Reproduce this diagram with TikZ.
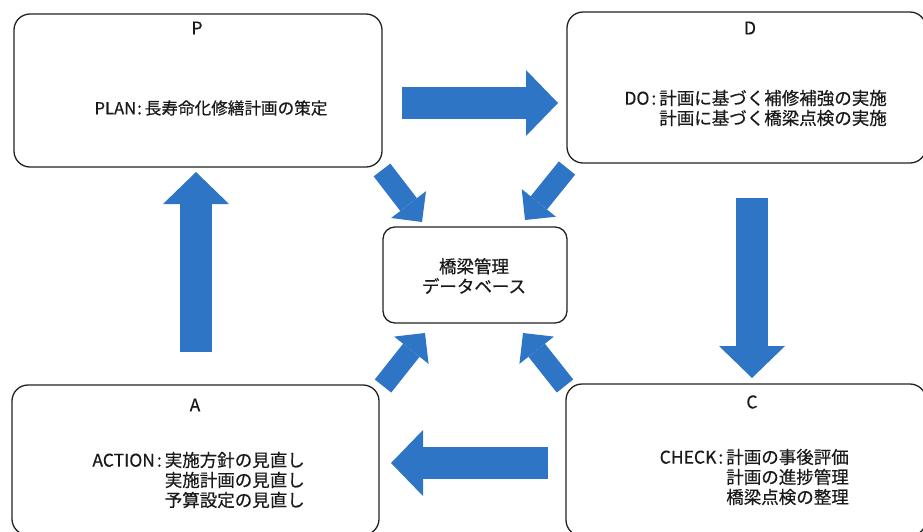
\documentclass[tikz,border=0pt]{standalone}
\usepackage{fontspec}
\setmainfont{Noto Sans CJK JP}[FakeBold=0.5]
\usepackage{xcolor}
\usepackage{tikz}
\usetikzlibrary{arrows.meta}
\definecolor{edge}{HTML}{222222}
\definecolor{ink}{HTML}{1A1A1A}
\definecolor{flow}{HTML}{2E75C6}
\tikzset{
  box/.style={draw=edge, line width=1.3pt, rounded corners=16pt, fill=white, inner sep=0pt},
  dbbox/.style={box, rounded corners=12pt},
  lab/.style={text=ink, font=\fontsize{17.5}{20}\selectfont, inner sep=0pt},
  labs/.style={lab, font=\fontsize{16.6}{20}\selectfont},
  bigflow/.style={draw=flow, line width=32pt, -{Triangle[length=32pt, width=66pt, line width=0pt]}},
  dbflow/.style={draw=flow, line width=21pt, -{Triangle[length=22pt, width=44pt, line width=0pt]}},
}

\begin{document}
\begin{tikzpicture}[x=1pt, y=-1pt]
  \useasboundingbox (0,0) rectangle (923,531);
  \clip (0,0) rectangle (923,531);

  \coordinate (pd1) at (402,103);
  \coordinate (pd2) at (558,103);
  \coordinate (dc1) at (752,198);
  \coordinate (dc2) at (752,378);
  \coordinate (ca1) at (548,463);
  \coordinate (ca2) at (391,463);
  \coordinate (ap1) at (196,352);
  \coordinate (ap2) at (196,172);
  \coordinate (ul1) at (382,170);
  \coordinate (ul2) at (422,222);
  \coordinate (ur1) at (567,168);
  \coordinate (ur2) at (525,220);
  \coordinate (ll1) at (383,386);
  \coordinate (ll2) at (425,333);
  \coordinate (lr1) at (565,386);
  \coordinate (lr2) at (523,333);

  \node[box, minimum width=368pt, minimum height=153pt] (P) at (198,90.5) {};
  \node[box, minimum width=359pt, minimum height=151pt] (D) at (746.5,87.5) {};
  \node[box, minimum width=367pt, minimum height=150pt] (A) at (195.5,460) {};
  \node[box, minimum width=360pt, minimum height=152pt] (C) at (746,460) {};
  \node[dbbox, minimum width=184pt, minimum height=96pt] (DB) at (475,275) {};

  \node[lab] (Pt) at (197,28) {P};
  \node[lab] (Dt) at (750,28) {D};
  \node[lab] (At) at (195,405) {A};
  \node[lab] (Ct) at (752,402) {C};

  \node[labs] (Pb) at (211,108) {PLAN\hspace{1pt}:\hspace{3pt}長寿命化修繕計画の策定};
  \node[lab, align=right, anchor=east] (Db) at (887,108)
    {DO\hspace{2pt}:\hspace{3pt}計画に基づく補修補強の実施\\計画に基づく橋梁点検の実施};
  \node[lab, align=right, anchor=east] (Ab) at (305,480)
    {ACTION\hspace{2pt}:\hspace{3pt}実施方針の見直し\\実施計画の見直し\\予算設定の見直し};
  \node[lab, align=right, anchor=east] (Cb) at (849,477)
    {CHECK\hspace{2pt}:\hspace{3pt}計画の事後評価\\計画の進捗管理\\橋梁点検の整理};
  \node[lab, align=center] (DBt) at (474,276) {橋梁管理\\データベース};

  \draw[bigflow] (pd1) -- (pd2);   % P to D
  \draw[bigflow] (dc1) -- (dc2);   % D to C
  \draw[bigflow] (ca1) -- (ca2);   % C to A
  \draw[bigflow] (ap1) -- (ap2);   % A to P

  \draw[dbflow] (ul1) -- (ul2);    % into database
  \draw[dbflow] (ur1) -- (ur2);
  \draw[dbflow] (ll1) -- (ll2);
  \draw[dbflow] (lr1) -- (lr2);
\end{tikzpicture}
\end{document}
